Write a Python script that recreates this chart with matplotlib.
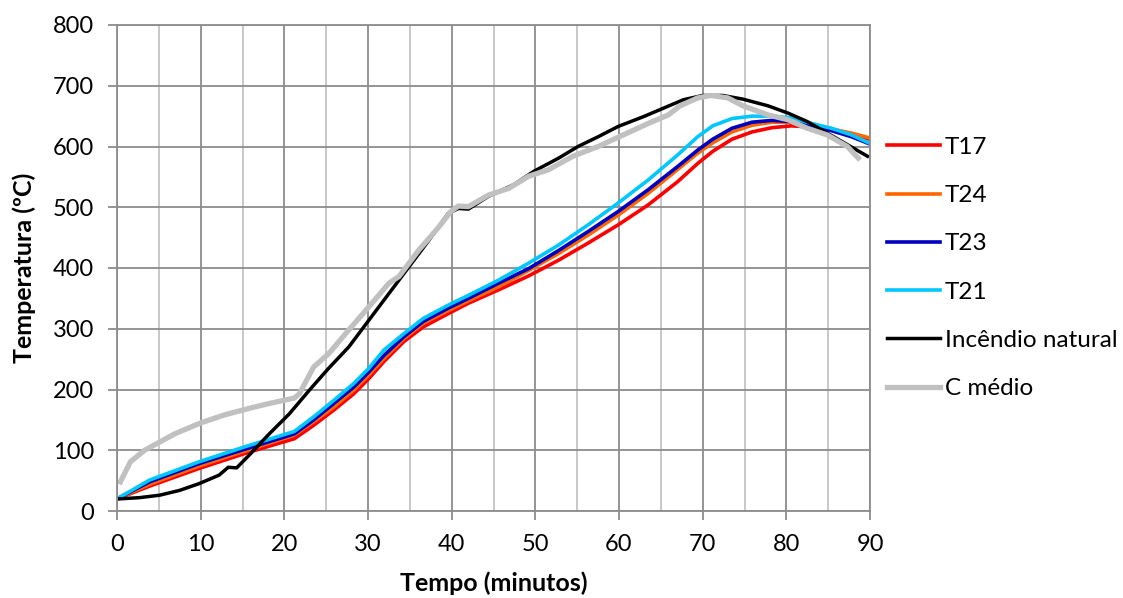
import matplotlib
matplotlib.use("Agg")
import matplotlib.pyplot as plt
from matplotlib.ticker import MultipleLocator

plt.rcParams['font.family'] = ['Lato', 'DejaVu Sans']

# dados (tempo em minutos, temperatura em ºC)
t_cor = [0, 3.9, 9.8, 15.8, 21.2, 23.5, 25.9, 28.3, 30.1, 31.9, 34.3, 36.6, 39.6, 42.0,
         45.6, 49.2, 52.8, 56.3, 59.9, 63.5, 67.0, 69.4, 71.2, 73.5, 75.9, 78.3, 80.6,
         83.0, 85.4, 87.8, 90]
T17 = [20, 41, 70, 97, 119, 141, 166, 193, 218, 246, 279, 303, 325, 342,
       364, 387, 413, 441, 471, 504, 542, 572, 592, 612, 624, 631, 634,
       632, 627, 620, 612]
T24 = [20, 44, 74, 101, 125, 147, 171, 199, 224, 251, 284, 309, 330, 346,
       369, 396, 424, 454, 487, 523, 562, 589, 606, 624, 635, 640, 640,
       636, 629, 622, 614]
T23 = [20, 48, 78, 104, 127, 150, 177, 204, 229, 256, 287, 312, 334, 350,
       375, 399, 429, 460, 493, 529, 567, 594, 612, 630, 640, 643, 641,
       634, 626, 616, 604]
T21 = [20, 51, 81, 108, 131, 155, 182, 210, 235, 265, 292, 317, 339, 355,
       380, 408, 438, 471, 507, 545, 586, 616, 634, 646, 650, 650, 647,
       638, 630, 619, 605]

t_inc = [0.3, 2.7, 5.1, 7.5, 9.8, 12.2, 13.3, 14.3, 15.8, 18.2, 20.6, 23.0, 25.3, 27.7,
         30.1, 32.5, 34.9, 37.3, 39.6, 40.8, 42.0, 44.4, 47.4, 49.8, 52.8, 55.1, 57.5,
         59.9, 62.9, 65.3, 67.7, 70.0, 72.4, 74.8, 77.8, 80.2, 82.5, 84.9, 87.3, 89.7]
incendio = [20, 22, 26, 34, 45, 59, 72, 71, 92, 127, 160, 199, 235, 270,
            314, 358, 402, 446, 490, 498, 497, 518, 537, 559, 581, 600, 616,
            633, 649, 663, 677, 684, 684, 678, 667, 655, 641, 622, 603, 584]

t_med = [0.4, 1.6, 3.3, 6.9, 10.0, 12.8, 15.8, 18.2, 21.2, 21.8, 23.5, 25.3, 27.7,
         30.1, 32.5, 33.7, 36.1, 38.5, 39.9, 40.8, 42.0, 44.4, 46.8, 49.2, 51.6, 54.5,
         57.5, 60.5, 63.5, 65.9, 67.3, 69.4, 71.0, 73.0, 74.8, 77.8, 80.2, 82.5, 84.9,
         87.3, 88.6]
c_medio = [48, 81, 100, 127, 145, 158, 169, 177, 186, 193, 237, 259, 298,
           336, 375, 386, 430, 468, 493, 502, 501, 520, 531, 551, 562, 584,
           600, 619, 638, 652, 667, 680, 684, 680, 667, 652, 644, 630, 619,
           600, 581]

fig = plt.figure(figsize=(11.23, 5.98), dpi=100)
ax = fig.add_axes([117/1123, 1 - 511/598, 753/1123, 486/598])

ax.plot(t_cor, T17, color='#ff0000', lw=2.6, label='T17')
ax.plot(t_cor, T24, color='#ff6600', lw=2.6, label='T24')
ax.plot(t_cor, T23, color='#0000c0', lw=2.6, label='T23')
ax.plot(t_cor, T21, color='#00c8ff', lw=2.6, label='T21')
ax.plot(t_inc, incendio, color='black', lw=2.5, label='Incêndio natural')
ax.plot(t_med, c_medio, color='#c0c0c0', lw=3.8, label='C médio')

ax.set_xlim(0, 90)
ax.set_ylim(0, 800)
ax.xaxis.set_major_locator(MultipleLocator(10))
ax.xaxis.set_minor_locator(MultipleLocator(5))
ax.yaxis.set_major_locator(MultipleLocator(100))

ax.grid(which='major', color='#8c8c8c', lw=1.3)
ax.grid(which='minor', axis='x', color='#c4c4c4', lw=1.3)
ax.set_axisbelow(True)
for s in ax.spines.values():
    s.set_color('#8c8c8c')
    s.set_linewidth(1.3)
ax.tick_params(which='major', direction='out', length=6.5, width=1.3, color='#8c8c8c',
               labelsize=17)
ax.tick_params(axis='x', pad=10)
ax.tick_params(axis='y', pad=10)
ax.tick_params(which='minor', length=0)

ax.set_xlabel('Tempo (minutos)', fontsize=18, fontweight='bold', labelpad=12)
ax.set_ylabel('Temperatura (ºC)', fontsize=18, fontweight='bold', labelpad=12)

ax.legend(loc='center left', bbox_to_anchor=(1.0226, 0.5), frameon=False, fontsize=17.5,
          handlelength=2.2, handletextpad=0.17, labelspacing=1.12, borderpad=0,
          borderaxespad=0)

fig.savefig('out.png', dpi=100)
